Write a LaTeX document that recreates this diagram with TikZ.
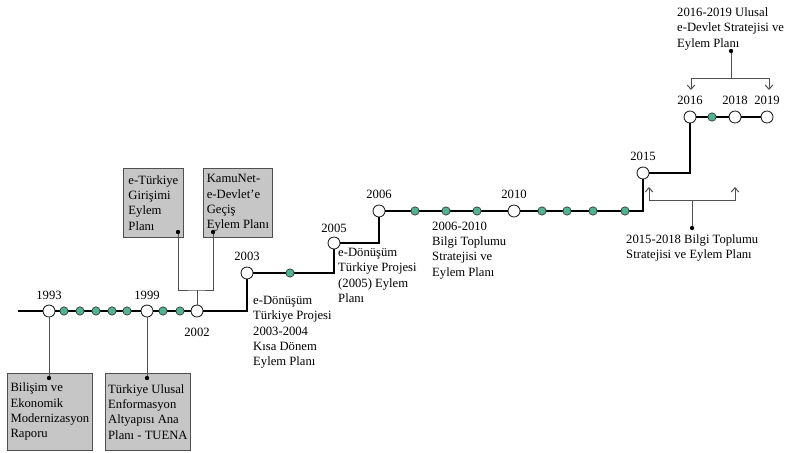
\documentclass[tikz,border=0pt]{standalone}
\usepackage{fontspec}
\setmainfont{Liberation Serif}
\usetikzlibrary{arrows.meta,positioning,calc}
\definecolor{stepgreen}{RGB}{82,178,146}
\definecolor{boxgray}{RGB}{198,198,198}
\definecolor{linkgray}{RGB}{80,80,80}
\tikzset{
  yearnode/.style = {draw=black!85, fill=white, circle, inner sep=0pt,
                     minimum size=0.36cm, line width=0.75pt},
  stepdot/.style  = {draw=black!80, fill=stepgreen, circle, inner sep=0pt,
                     minimum size=0.25cm, line width=0.55pt},
  pindot/.style   = {fill, circle, inner sep=0pt, minimum size=0.13cm},
  docbox/.style   = {draw=linkgray, fill=boxgray, line width=0.7pt,
                     align=left, inner sep=1pt, anchor=north west},
  note/.style     = {align=left, inner sep=0pt, anchor=north west},
  yearlbl/.style  = {inner sep=0pt},
  tline/.style    = {line width=2.4pt},
  link/.style     = {draw=linkgray, line width=0.85pt},
  fork/.style     = {link, -{Straight Barb[length=1.3mm,width=2.3mm]}},
}

\begin{document}
\begin{tikzpicture}[x=0.03cm, y=-0.03cm, font=\fontsize{10.8}{13.1}\selectfont]
\useasboundingbox (0,0) rectangle (790,453);
% ---- years ----
\coordinate (tstart) at (18,311);
\node[yearnode] (c1993) at (49,311) {};
\node[yearnode] (c1999) at (147,311) {};
\node[yearnode] (c2002) at (197,311) {};
\node[yearnode] (c2003) at (247,273) {};
\node[yearnode] (c2005) at (334,243) {};
\node[yearnode] (c2006) at (379,211) {};
\node[yearnode] (c2010) at (514,211) {};
\node[yearnode] (c2015) at (643,173) {};
\node[yearnode] (c2016) at (690,117) {};
\node[yearnode] (c2018) at (735,117) {};
\node[yearnode] (c2019) at (767,117) {};

\draw[tline] (tstart) -- (c1993) -- (c1999) -- (c2002) -| (c2003) -| (c2005)
  -| (c2006) -- (c2010) -| (c2015) -| (c2016) -- (c2018) -- (c2019);

\foreach \x in {64,80,96,112,127,163,180}
  \node[stepdot] (sa\x) at (\x,311) {};
\node[stepdot] (sb290) at (290,273) {};
\foreach \x in {415,446,477,542,567,593,625}
  \node[stepdot] (sc\x) at (\x,211) {};
\node[stepdot] (sd712) at (712,117) {};

\node[yearlbl, above=3.7pt of c1993] (t1993) {1993};
\node[yearlbl, above=3.7pt of c1999] (t1999) {1999};
\node[yearlbl, below=8.5pt of c2002] (t2002) {2002};
\node[yearlbl, above=4.5pt of c2003] (t2003) {2003};
\node[yearlbl, above=3.5pt of c2005] (t2005) {2005};
\node[yearlbl, above=4.8pt of c2006] (t2006) {2006};
\node[yearlbl, above=4.8pt of c2010] (t2010) {2010};
\node[yearlbl, above=4.5pt of c2015] (t2015) {2015};
\node[yearlbl, above=5pt of c2016] (t2016) {2016};
\node[yearlbl, above=5pt of c2018] (t2018) {2018};
\node[yearlbl, above=5pt of c2019] (t2019) {2019};

% ---- documents in boxes ----
\node[docbox, minimum width=2.55cm, minimum height=2.31cm] (bilisim) at (7,373)
  {Bilişim ve\\Ekonomik\\Modernizasyon\\Raporu};
\node[docbox, minimum width=2.55cm, minimum height=2.31cm] (tuena) at (105,373)
  {Türkiye Ulusal\\Enformasyon\\Altyapısı Ana\\Planı - TUENA};
\node[docbox, minimum width=1.8cm, minimum height=2.07cm] (eturk) at (123,168)
  {e-Türkiye\\Girişimi\\Eylem\\Planı};
\node[docbox, minimum width=2.07cm, minimum height=2.07cm] (kamunet) at (203,168)
  {KamuNet-\\e-Devlet’e\\Geçiş\\Eylem Planı};

\node[pindot] (d1993) at (49,378) {};
\node[pindot] (d1999) at (147,378) {};
\node[pindot] (deturk) at (178,232) {};
\node[pindot] (dkamu) at (213,232) {};
\coordinate (jfork) at (197,290);

\draw[link] (c1993) -- (d1993);
\draw[link] (c1999) -- (d1999);
\draw[link] (deturk) |- (jfork) -| (dkamu);
\draw[link] (jfork) -- (c2002);

% ---- plans as free text ----
\node[note] (edon03) at (253,296)
  {e-Dönüşüm\\Türkiye Projesi\\2003-2004\\Kısa Dönem\\Eylem Planı};
\node[note] (edon05) at (338,248)
  {e-Dönüşüm\\Türkiye Projesi\\(2005) Eylem\\Planı};
\node[note] (bilgi06) at (432,221.5)
  {2006-2010\\Bilgi Toplumu\\Stratejisi ve\\Eylem Planı};
\node[note] (bilgi15) at (626,234)
  {2015-2018 Bilgi Toplumu\\Stratejisi ve Eylem Planı};
\node[note] (edev16) at (677,7.4)
  {2016-2019 Ulusal\\e-Devlet Stratejisi ve\\Eylem Planı};

% ---- pointers to the later years ----
\node[pindot] (d1518) at (692,228) {};
\coordinate (j1518) at (692,200);
\coordinate (a2015) at (649,187);
\coordinate (a2018) at (735,187);
\draw[link] (d1518) -- (j1518);
\draw[fork] (j1518) -| (a2015);
\draw[fork] (j1518) -| (a2018);

\node[pindot] (d1619) at (731,51) {};
\coordinate (j1619) at (731,78);
\coordinate (a2016) at (691,90);
\coordinate (a2019) at (769,90);
\draw[link] (d1619) -- (j1619);
\draw[fork] (j1619) -| (a2016);
\draw[fork] (j1619) -| (a2019);
\end{tikzpicture}
\end{document}
